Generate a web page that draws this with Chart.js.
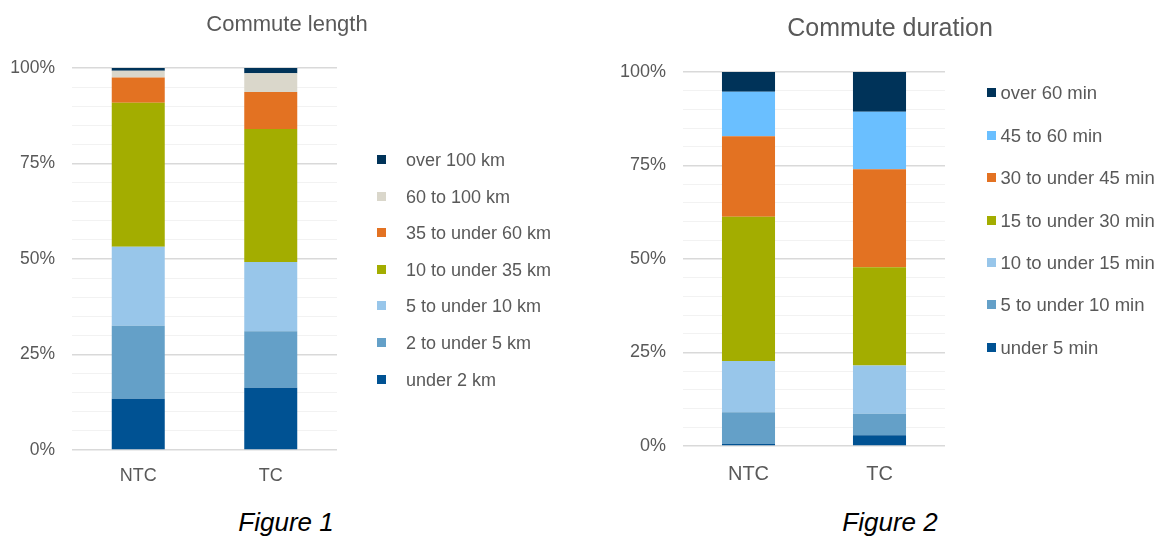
<!DOCTYPE html>
<html>
<head>
<meta charset="utf-8">
<script src="https://cdn.jsdelivr.net/npm/chart.js@4/dist/chart.umd.min.js"></script>
<style>
  body { margin: 0; background: #fff; font-family: "Liberation Sans", Arial, sans-serif; }
  .wrap { position: relative; width: 1162px; height: 537px; overflow: hidden; }
  canvas { position: absolute; top: 0; }
  .legend { position: absolute; color: #595959; }
  .legend div { position: absolute; white-space: nowrap; }
  .legend span { position: absolute; display: block; }
  .title, .caption { position: absolute; transform: translate(-50%, -50%); white-space: nowrap; line-height: 1; }
  .title { color: #595959; }
  .caption { top: 522px; font-style: italic; font-size: 26px; color: #000; }
</style>
</head>
<body>
<div class="wrap">
  <canvas id="lengthChart" width="575" height="500" style="left:0px"></canvas>
  <canvas id="durationChart" width="540" height="500" style="left:620px"></canvas>
  <div class="title" style="left:287px;top:24px;font-size:22px">Commute length</div>
  <div class="title" style="left:890px;top:27px;font-size:25px">Commute duration</div>
  <div class="legend" id="lengthLegend"></div>
  <div class="legend" id="durationLegend"></div>
  <div class="caption" style="left:286px">Figure 1</div>
  <div class="caption" style="left:890px">Figure 2</div>
</div>
<script>
const groups = ['NTC', 'TC'];

// commute length, share in %
const lengthBands = ['under 2 km', '2 to under 5 km', '5 to under 10 km', '10 to under 35 km', '35 to under 60 km', '60 to 100 km', 'over 100 km'];
const lengthNTC = [13.4, 19.1, 20.7, 37.7, 6.6, 1.8, 0.7];
const lengthTC = [16.3, 14.8, 18.1, 34.8, 9.7, 4.9, 1.4];
const lengthColors = ['#005293', '#64a0c8', '#98c6ea', '#a3ad00', '#e37222', '#dad7cb', '#003359'];

// commute duration, share in %
const durationBands = ['under 5 min', '5 to under 10 min', '10 to under 15 min', '15 to under 30 min', '30 to under 45 min', '45 to 60 min', 'over 60 min'];
const durationNTC = [0.6, 8.4, 13.7, 38.6, 21.5, 11.9, 5.3];
const durationTC = [2.9, 5.7, 12.9, 26.3, 26.2, 15.4, 10.6];
const durationColors = ['#005293', '#64a0c8', '#98c6ea', '#a3ad00', '#e37222', '#6abfff', '#003359'];

const yTicks = [0, 25, 50, 75, 100];
const grey = '#595959';

function makeChart(id, bands, ntc, tc, colors, o) {
  const datasets = bands.map((b, i) => ({
    label: b,
    data: [ntc[i], tc[i]],
    backgroundColor: colors[i],
    borderWidth: 0,
    barPercentage: o.bar,
    categoryPercentage: 1
  }));
  return new Chart(document.getElementById(id), {
    type: 'bar',
    data: { labels: groups, datasets: datasets },
    options: {
      responsive: false,
      animation: false,
      layout: { padding: { left: 0, right: o.right, top: o.top, bottom: 0 } },
      plugins: {
        legend: { display: false },
        tooltip: { enabled: false }
      },
      scales: {
        x: {
          stacked: true,
          grid: { display: false, drawTicks: false },
          border: { display: false },
          ticks: { color: grey, padding: o.xPad, font: { family: 'Liberation Sans', size: o.xSize } },
          afterFit: s => { s.height = o.xHeight; }
        },
        y: {
          stacked: true,
          min: 0,
          max: 100,
          border: { display: false },
          grid: {
            drawTicks: false,
            color: c => yTicks.includes(c.tick.value) ? '#d9d9d9' : '#f2f2f2',
            lineWidth: c => yTicks.includes(c.tick.value) ? 1.5 : 1
          },
          ticks: {
            stepSize: 5,
            autoSkip: false,
            color: grey,
            padding: 17,
            font: { family: 'Liberation Sans', size: o.ySize },
            callback: v => yTicks.includes(v) ? v + '%' : ''
          },
          afterFit: s => { s.width = o.yWidth; }
        }
      }
    }
  });
}

function makeLegend(id, chart, o) {
  const el = document.getElementById(id);
  const ds = chart.data.datasets.slice().reverse();
  ds.forEach((d, i) => {
    const y = o.top + i * o.step;
    const row = document.createElement('div');
    row.style.left = o.left + 'px';
    row.style.top = y + 'px';
    row.style.fontSize = o.size + 'px';
    const box = document.createElement('span');
    box.style.cssText = 'left:0;top:-5px;width:9px;height:9px;background:' + d.backgroundColor;
    const txt = document.createElement('span');
    txt.style.cssText = 'left:' + o.textGap + 'px;top:0;transform:translateY(-50%);line-height:1';
    txt.textContent = d.label;
    row.appendChild(box);
    row.appendChild(txt);
    el.appendChild(row);
  });
}

const lengthChart = makeChart('lengthChart', lengthBands, lengthNTC, lengthTC, lengthColors, {
  bar: 0.4, right: 238, top: 68, xSize: 18, xPad: 15, xHeight: 50, ySize: 17.5, yWidth: 72
});
const durationChart = makeChart('durationChart', durationBands, durationNTC, durationTC, durationColors, {
  bar: 0.405, right: 215, top: 72, xSize: 20, xPad: 16, xHeight: 54, ySize: 18, yWidth: 63
});

makeLegend('lengthLegend', lengthChart, { left: 377, top: 160, step: 36.6, size: 18, textGap: 29 });
makeLegend('durationLegend', durationChart, { left: 987, top: 93.3, step: 42.4, size: 18.5, textGap: 13.5 });
</script>
</body>
</html>
